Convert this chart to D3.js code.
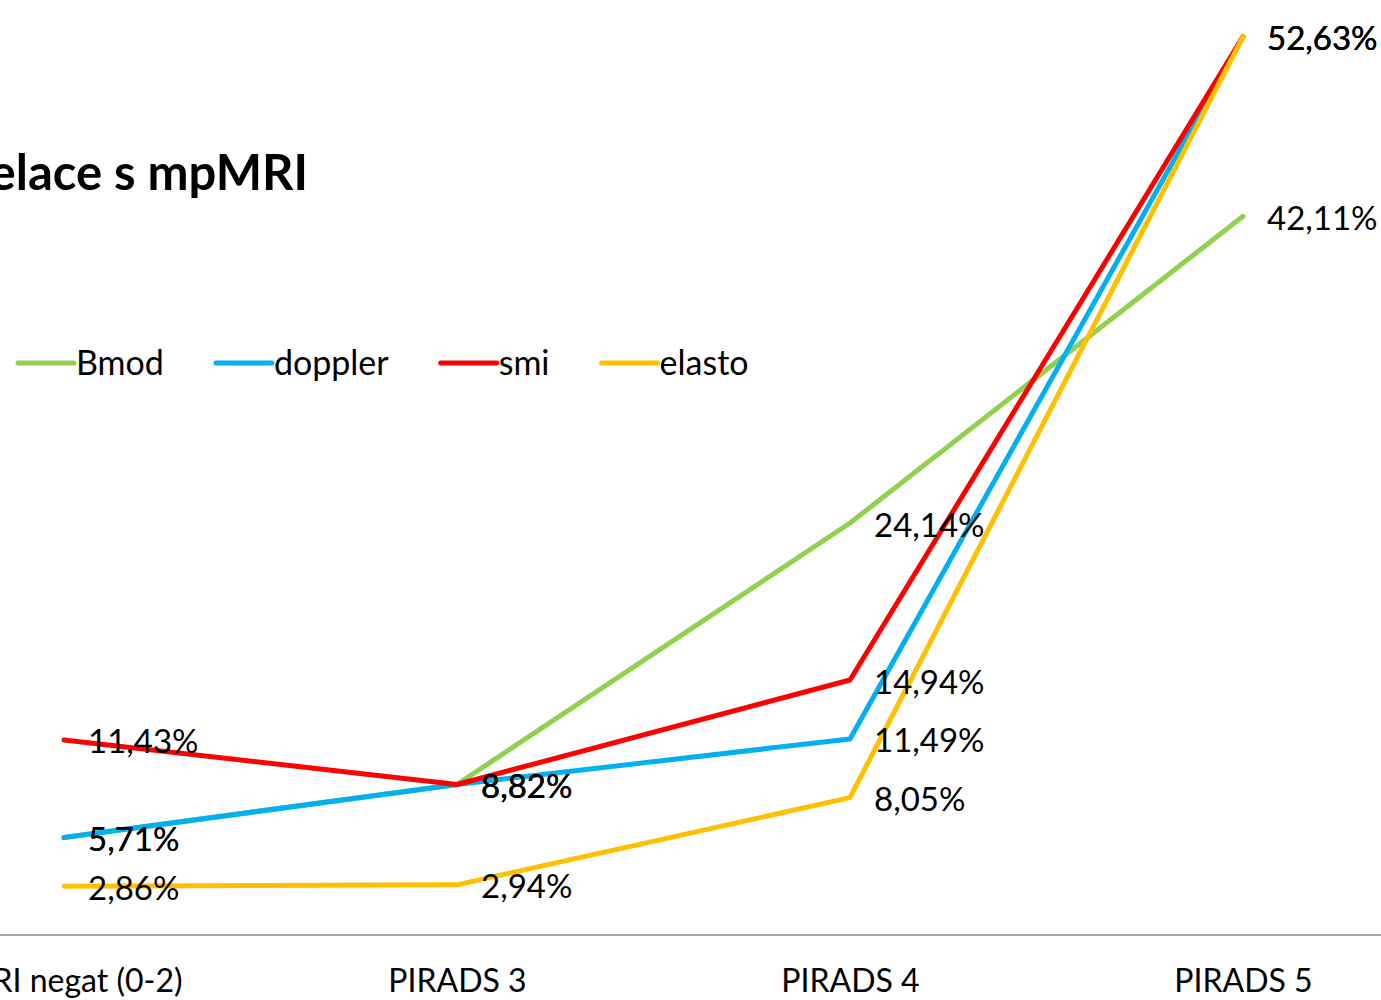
<!DOCTYPE html>
<html>
<head>
<meta charset="utf-8">
<script src="https://d3js.org/d3.v7.min.js"></script>
<style>
  body { margin: 0; background: #fff; }
  svg { display: block; font-family: Lato, "Open Sans", sans-serif; }
</style>
</head>
<body>
<div id="chart"></div>
<script>
// chart data
const categories = ["mpMRI negat (0-2)", "PIRADS 3", "PIRADS 4", "PIRADS 5"];
const seriesNames = ["Bmod", "doppler", "smi", "elasto"];
const bmodValues = [5.71, 8.82, 24.14, 42.11];
const dopplerValues = [5.71, 8.82, 11.49, 52.63];
const smiValues = [11.43, 8.82, 14.94, 52.63];
const elastoValues = [2.86, 2.94, 8.05, 52.63];
const seriesColors = ["#92D050", "#00B0F0", "#FF0000", "#FFC000"];
const titleText = "Korelace s mpMRI";

const width = 1381, height = 1000;

const svg = d3.select("#chart")
    .append("svg")
    .attr("width", width)
    .attr("height", height);

const x = d3.scalePoint()
    .domain(categories)
    .range([64, 1243]);

const y = d3.scaleLinear()
    .domain([0, 60])
    .range([935, -89]);

const series = seriesNames.map((name, i) => ({
    name: name,
    color: seriesColors[i],
    values: [bmodValues, dopplerValues, smiValues, elastoValues][i]
}));

// title (left part runs off the picture, like in the source)
svg.append("text")
    .attr("x", 308)
    .attr("y", 190)
    .attr("text-anchor", "end")
    .attr("font-size", "49px")
    .attr("font-weight", "bold")
    .attr("fill", "#000")
    .text(titleText);

// x axis
const xAxis = svg.append("g")
    .attr("transform", `translate(0, ${y(0)})`)
    .call(d3.axisBottom(x).tickSize(0).tickPadding(34));
xAxis.select(".domain").remove();
xAxis.append("line")
    .attr("x1", 0)
    .attr("x2", width)
    .attr("stroke", "#A6A6A6")
    .attr("stroke-width", 2);
xAxis.selectAll(".tick text")
    .attr("font-family", "Lato, 'Open Sans', sans-serif")
    .attr("font-size", "32px")
    .attr("fill", "#000");
// first label is pushed left, past the edge
xAxis.selectAll(".tick text")
    .filter((d, i) => i === 0)
    .attr("text-anchor", "end")
    .attr("x", 118);

// lines
const line = d3.line()
    .x((d, i) => x(categories[i]))
    .y(d => y(d));

svg.append("g")
    .selectAll("path")
    .data(series)
    .enter()
    .append("path")
    .attr("d", d => line(d.values))
    .attr("fill", "none")
    .attr("stroke", d => d.color)
    .attr("stroke-width", 5)
    .attr("stroke-linecap", "round")
    .attr("stroke-linejoin", "round");

// data labels
const labels = svg.append("g");
series.forEach(s => {
    labels.selectAll(null)
        .data(s.values)
        .enter()
        .append("text")
        .attr("x", (d, i) => x(categories[i]) + 24)
        .attr("y", d => y(d) + 2)
        .attr("dy", "0.35em")
        .attr("font-size", "33px")
        .attr("fill", "#000")
        .text(d => d.toFixed(2).replace(".", ",") + "%");
});

// legend
const legendGroup = svg.append("g")
    .attr("transform", "translate(18, 363)");
let cursor = 0;
series.forEach(s => {
    const item = legendGroup.append("g")
        .attr("transform", `translate(${cursor}, 0)`);
    item.append("line")
        .attr("x1", 0)
        .attr("x2", 56)
        .attr("stroke", s.color)
        .attr("stroke-width", 5)
        .attr("stroke-linecap", "round");
    const t = item.append("text")
        .attr("x", 58)
        .attr("dy", "0.35em")
        .attr("font-size", "34px")
        .attr("fill", "#000")
        .text(s.name);
    cursor += 58 + t.node().getComputedTextLength() + 52;
});
</script>
</body>
</html>
